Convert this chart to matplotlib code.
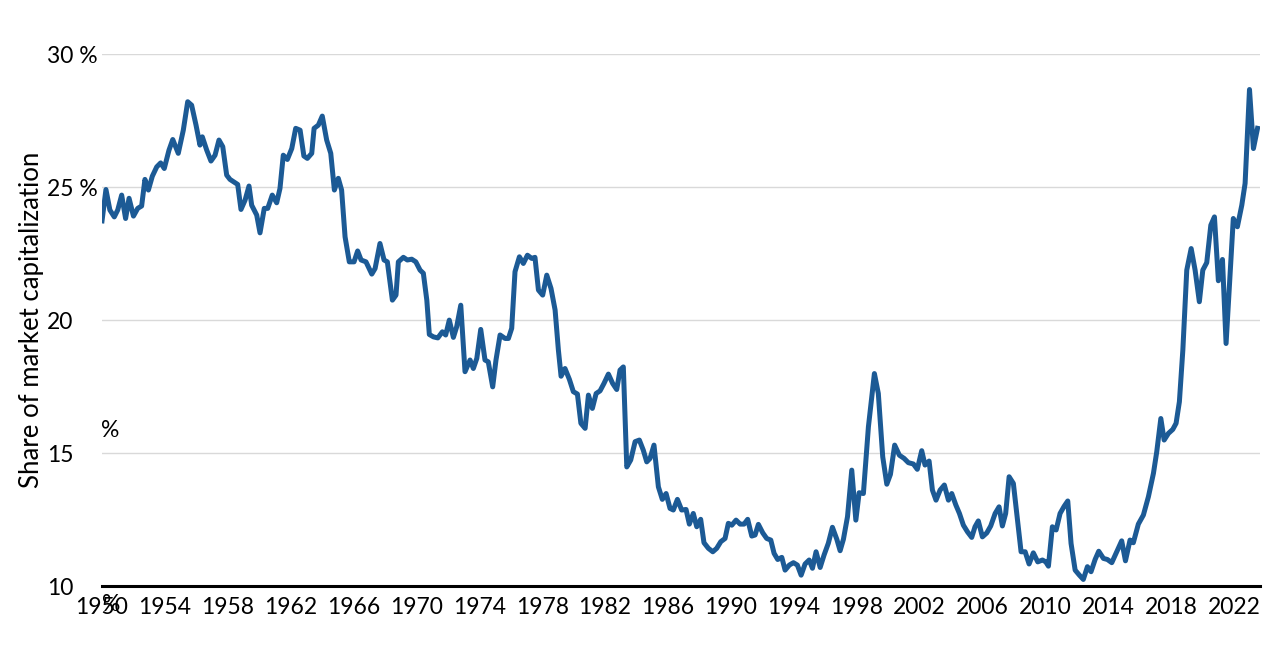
import matplotlib
matplotlib.use("Agg")
import matplotlib.pyplot as plt

# values (decimal year, share in %)
years = [
    1950.0, 1950.25, 1950.5, 1950.78, 1951.0, 1951.25, 1951.5, 1951.72, 1952.0, 1952.27,
    1952.52, 1952.73, 1952.95, 1953.2, 1953.48, 1953.73, 1953.96, 1954.26, 1954.5, 1954.85,
    1955.17, 1955.45, 1955.7, 1955.98, 1956.23, 1956.38, 1956.66, 1956.93, 1957.19, 1957.44,
    1957.68, 1957.93, 1958.14, 1958.63, 1958.84, 1959.1, 1959.35, 1959.52, 1959.84, 1960.05,
    1960.32, 1960.54, 1960.83, 1961.11, 1961.32, 1961.53, 1961.79, 1962.07, 1962.32, 1962.6,
    1962.84, 1963.06, 1963.34, 1963.49, 1963.76, 1964.01, 1964.29, 1964.55, 1964.78, 1965.03,
    1965.24, 1965.46, 1965.73, 1966.03, 1966.26, 1966.48, 1966.79, 1967.16, 1967.37, 1967.68,
    1967.94, 1968.15, 1968.47, 1968.7, 1968.85, 1969.17, 1969.42, 1969.7, 1969.96, 1970.23,
    1970.44, 1970.66, 1970.82, 1971.08, 1971.36, 1971.65, 1971.86, 1972.09, 1972.35, 1972.56,
    1972.82, 1973.09, 1973.41, 1973.62, 1973.84, 1974.09, 1974.36, 1974.57, 1974.85, 1975.06,
    1975.32, 1975.64, 1975.85, 1976.06, 1976.27, 1976.55, 1976.8, 1977.06, 1977.33, 1977.54,
    1977.76, 1978.03, 1978.29, 1978.56, 1978.82, 1979.03, 1979.2, 1979.45, 1979.73, 1979.98,
    1980.24, 1980.46, 1980.73, 1980.94, 1981.19, 1981.43, 1981.68, 1981.93, 1982.21, 1982.48,
    1982.74, 1982.95, 1983.16, 1983.38, 1983.63, 1983.91, 1984.18, 1984.43, 1984.65, 1984.86,
    1985.11, 1985.39, 1985.64, 1985.88, 1986.13, 1986.34, 1986.6, 1986.87, 1987.15, 1987.36,
    1987.61, 1987.83, 1988.08, 1988.29, 1988.57, 1988.85, 1989.1, 1989.36, 1989.63, 1989.84,
    1990.06, 1990.33, 1990.59, 1990.84, 1991.07, 1991.33, 1991.54, 1991.75, 1992.03, 1992.28,
    1992.54, 1992.75, 1992.98, 1993.24, 1993.45, 1993.72, 1993.98, 1994.23, 1994.47, 1994.72,
    1994.98, 1995.19, 1995.42, 1995.68, 1995.93, 1996.2, 1996.46, 1996.74, 1996.95, 1997.16,
    1997.42, 1997.69, 1997.95, 1998.16, 1998.43, 1998.75, 1999.13, 1999.38, 1999.66, 1999.92,
    2000.15, 2000.42, 2000.72, 2001.02, 2001.29, 2001.61, 2001.86, 2002.14, 2002.35, 2002.61,
    2002.82, 2003.05, 2003.31, 2003.58, 2003.84, 2004.05, 2004.31, 2004.54, 2004.79, 2005.05,
    2005.32, 2005.53, 2005.74, 2006.0, 2006.28, 2006.53, 2006.81, 2007.06, 2007.27, 2007.48,
    2007.7, 2007.97, 2008.23, 2008.46, 2008.72, 2008.97, 2009.24, 2009.52, 2009.82, 2010.03,
    2010.2, 2010.45, 2010.69, 2010.94, 2011.2, 2011.43, 2011.64, 2011.9, 2012.17, 2012.42,
    2012.68, 2012.91, 2013.17, 2013.4, 2013.7, 2013.95, 2014.23, 2014.5, 2014.86, 2015.1,
    2015.39, 2015.6, 2015.92, 2016.24, 2016.56, 2016.88, 2017.09, 2017.35, 2017.56, 2017.83,
    2018.11, 2018.32, 2018.53, 2018.75, 2019.0, 2019.28, 2019.53, 2019.8, 2020.02, 2020.27,
    2020.53, 2020.76, 2021.01, 2021.27, 2021.5, 2021.96, 2022.22, 2022.5, 2022.71, 2022.99,
    2023.24, 2023.5,
]
share = [
    23.73, 24.91, 24.14, 23.88, 24.14, 24.7, 23.82, 24.58, 23.91, 24.2,
    24.29, 25.29, 24.89, 25.41, 25.76, 25.91, 25.7, 26.39, 26.79, 26.27,
    27.14, 28.21, 28.08, 27.33, 26.58, 26.89, 26.39, 25.98, 26.2, 26.77,
    26.52, 25.45, 25.29, 25.1, 24.16, 24.51, 25.04, 24.32, 23.95, 23.28,
    24.2, 24.2, 24.7, 24.41, 24.95, 26.2, 26.04, 26.45, 27.21, 27.14,
    26.17, 26.08, 26.27, 27.21, 27.33, 27.67, 26.77, 26.27, 24.89, 25.33,
    24.89, 23.13, 22.19, 22.19, 22.6, 22.26, 22.19, 21.73, 21.94, 22.88,
    22.26, 22.19, 20.75, 20.94, 22.19, 22.36, 22.26, 22.29, 22.19, 21.88,
    21.76, 20.75, 19.46, 19.37, 19.33, 19.56, 19.44, 20.0, 19.35, 19.75,
    20.56, 18.06, 18.5, 18.18, 18.56, 19.65, 18.5, 18.43, 17.49, 18.5,
    19.44, 19.31, 19.31, 19.69, 21.82, 22.38, 22.13, 22.44, 22.32, 22.36,
    21.13, 20.94, 21.69, 21.19, 20.38, 18.87, 17.89, 18.18, 17.77, 17.31,
    17.22, 16.12, 15.93, 17.18, 16.68, 17.24, 17.34, 17.62, 17.97, 17.62,
    17.39, 18.12, 18.24, 14.48, 14.74, 15.43, 15.49, 15.11, 14.67, 14.8,
    15.3, 13.73, 13.26, 13.48, 12.92, 12.86, 13.26, 12.86, 12.88, 12.33,
    12.73, 12.23, 12.51, 11.63, 11.42, 11.29, 11.42, 11.67, 11.79, 12.36,
    12.29, 12.48, 12.33, 12.33, 12.51, 11.88, 11.92, 12.32, 12.0, 11.79,
    11.73, 11.23, 11.0, 11.08, 10.6, 10.79, 10.88, 10.79, 10.41, 10.83,
    10.98, 10.67, 11.29, 10.7, 11.17, 11.61, 12.21, 11.76, 11.33, 11.76,
    12.61, 14.36, 12.48, 13.51, 13.48, 15.99, 17.99, 17.24, 14.86, 13.83,
    14.2, 15.3, 14.92, 14.8, 14.64, 14.59, 14.39, 15.09, 14.55, 14.7,
    13.61, 13.23, 13.61, 13.8, 13.23, 13.48, 13.05, 12.73, 12.29, 12.04,
    11.83, 12.23, 12.45, 11.85, 12.0, 12.26, 12.73, 12.98, 12.26, 12.73,
    14.11, 13.86, 12.48, 11.29, 11.29, 10.83, 11.25, 10.91, 10.98, 10.91,
    10.75, 12.23, 12.11, 12.73, 13.0, 13.2, 11.6, 10.6, 10.41, 10.25,
    10.73, 10.54, 11.0, 11.31, 11.04, 11.0, 10.88, 11.23, 11.7, 10.95,
    11.73, 11.63, 12.33, 12.67, 13.36, 14.24, 15.05, 16.3, 15.49, 15.74,
    15.89, 16.12, 16.93, 18.87, 21.88, 22.69, 21.88, 20.69, 21.88, 22.16,
    23.57, 23.88, 21.48, 22.28, 19.12, 23.82, 23.51, 24.32, 25.14, 28.67,
    26.45, 27.21,
]
x_ticks = list(range(1950, 2023, 4))
y_ticks = [10, 15, 20, 25, 30]
y_tick_labels = ["10", "15", "20", "25 %", "30 %"]

plt.rcParams["font.family"] = ["Lato", "DejaVu Sans"]

fig = plt.figure(figsize=(12.8, 6.6), dpi=100)
ax = fig.add_axes([0.0797, 0.112, 0.9047, 0.806])

ax.plot(years, share, color="#1c5a95", linewidth=3.6, solid_joinstyle="round")

ax.set_xlim(1950, 2023.66)
ax.set_ylim(10, 30)
ax.set_xticks(x_ticks)
ax.set_xticklabels([str(y) for y in x_ticks], fontsize=16.5)
ax.set_yticks(y_ticks)
ax.set_yticklabels(y_tick_labels, fontsize=16.5, ha="left")
ax.tick_params(axis="y", length=0, pad=39.5)
ax.tick_params(axis="x", length=0, pad=8)

ax.grid(axis="y", color="#d9d9d9", linewidth=1)
ax.set_axisbelow(True)
for side in ["top", "right", "left"]:
    ax.spines[side].set_visible(False)
ax.spines["bottom"].set_linewidth(2.2)
ax.spines["bottom"].set_color("black")

# stray percent signs as they appear in the original
ax.text(1950.55, 15.85, "%", fontsize=16.5, ha="center", va="center", clip_on=False)
ax.text(1950.6, 9.3, "%", fontsize=16.5, ha="center", va="center", clip_on=False)

ax.set_ylabel("Share of market capitalization", fontsize=18.5, labelpad=0)
ax.yaxis.set_label_coords(-0.05, 0.5)

fig.savefig("out.png", dpi=100)
